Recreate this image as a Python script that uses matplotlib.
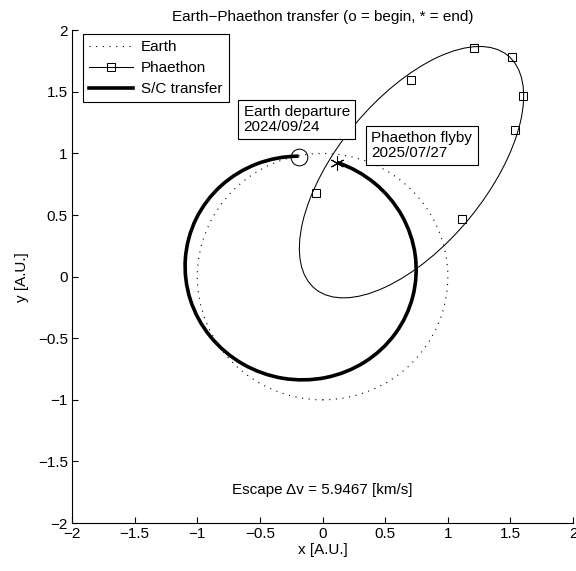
import matplotlib
matplotlib.use("Agg")
import matplotlib.pyplot as plt
from matplotlib.patches import Circle, Ellipse, Arc

plt.rcParams['font.family'] = ['Liberation Sans', 'DejaVu Sans']
plt.rcParams['font.size'] = 11

# orbit shapes (data units, A.U.)
earth_center = (0.0, 0.0)
earth_radius = 1.0

phaethon_center = (0.71, 0.848)
phaethon_width = 2.44
phaethon_height = 1.19
phaethon_angle = 51.1

transfer_center = (-0.175, 0.07)
transfer_width = 1.85
transfer_height = 1.81
transfer_angle = -22.0
transfer_theta1 = 113.0
transfer_theta2 = 93.0

# Phaethon position markers
phaethon_x = [-0.05, 0.702, 1.208, 1.511, 1.602, 1.538, 1.112]
phaethon_y = [0.679, 1.598, 1.855, 1.782, 1.468, 1.192, 0.470]

# begin / end points
depart_x, depart_y = -0.19, 0.97
flyby_x, flyby_y = 0.114, 0.92

depart_label = 'Earth departure\n2024/09/24'
flyby_label = 'Phaethon flyby\n2025/07/27'
escape_label = 'Escape \u0394v = 5.9467 [km/s]'

ticks = [-2, -1.5, -1, -0.5, 0, 0.5, 1, 1.5, 2]
tick_labels = ['\u22122', '\u22121.5', '\u22121', '\u22120.5', '0', '0.5', '1', '1.5', '2']

fig = plt.figure(figsize=(5.76, 5.71), dpi=100)
ax = fig.add_axes([0.125, 0.084, 0.870, 0.863])

dotted = (0, (1, 5))

ax.add_patch(Circle(earth_center, earth_radius, fill=False, ec='k', lw=0.8, ls=dotted))
ax.add_patch(Ellipse(phaethon_center, phaethon_width, phaethon_height, angle=phaethon_angle,
                     fill=False, ec='k', lw=0.75))
ax.add_patch(Arc(transfer_center, transfer_width, transfer_height, angle=transfer_angle,
                 theta1=transfer_theta1, theta2=transfer_theta2, color='k', lw=2.6))

ax.plot(phaethon_x, phaethon_y, ls='none', marker='s', mfc='none', mec='k', ms=6, mew=0.75)
ax.plot([depart_x], [depart_y], ls='none', marker='o', mfc='none', mec='k', ms=12, mew=0.75)
ax.plot([flyby_x], [flyby_y], ls='none', marker=(6, 2, 0), color='k', ms=10, mew=0.75)

# legend proxies
h1, = ax.plot([], [], color='k', lw=0.8, ls=dotted, label='Earth')
h2, = ax.plot([], [], color='k', lw=0.75, marker='s', mfc='none', ms=6, mew=0.75, label='Phaethon')
h3, = ax.plot([], [], color='k', lw=2.6, label='S/C transfer')
leg = ax.legend(handles=[h1, h2, h3], loc='upper left', bbox_to_anchor=(0.022, 0.992),
                borderaxespad=0, numpoints=1, handlelength=2.9, handletextpad=0.5,
                labelspacing=0.45, borderpad=0.4, fancybox=False, framealpha=1, fontsize=11)
leg.get_frame().set_edgecolor('k')
leg.get_frame().set_linewidth(0.8)

box = dict(boxstyle='square,pad=0.35', fc='white', ec='k', lw=0.8)
ax.text(-0.63, 1.16, depart_label, ha='left', va='bottom', fontsize=11, bbox=box, linespacing=1.05)
ax.text(0.39, 0.95, flyby_label, ha='left', va='bottom', fontsize=11, bbox=box, linespacing=1.05)
ax.text(0.0, -1.735, escape_label, ha='center', va='center', fontsize=11)

ax.set_xlim(-2, 2)
ax.set_ylim(-2, 2)
ax.set_xticks(ticks)
ax.set_xticklabels(tick_labels)
ax.set_yticks(ticks)
ax.set_yticklabels(tick_labels)
ax.tick_params(direction='in', length=4, width=0.8, labelsize=11, pad=3)
ax.spines['top'].set_visible(False)
ax.spines['right'].set_visible(False)

ax.set_xlabel('x [A.U.]', labelpad=1)
ax.set_ylabel('y [A.U.]', labelpad=6)
ax.set_title('Earth\u2212Phaethon transfer (o = begin, * = end)', fontsize=11, pad=7)

fig.savefig('out.png', dpi=100)
